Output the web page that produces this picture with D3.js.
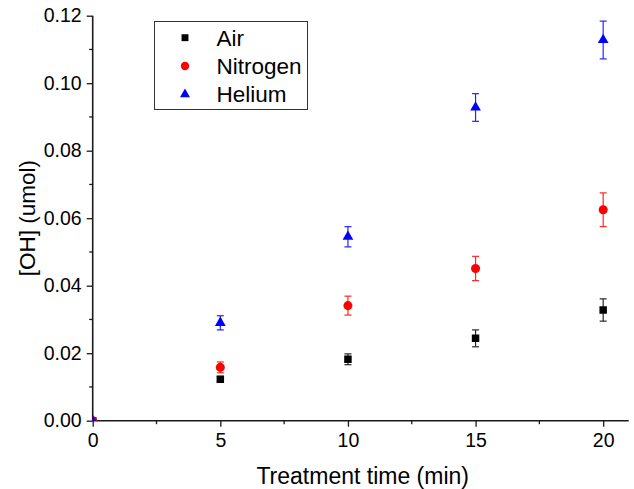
<!DOCTYPE html>
<html>
<head>
<meta charset="utf-8">
<script src="https://cdn.jsdelivr.net/npm/d3@7"></script>
<style>
  html, body { margin: 0; padding: 0; background: #fff; }
  svg { display: block; font-family: "Liberation Sans", Arial, sans-serif; }
</style>
</head>
<body>
<svg id="chart" width="634" height="489"></svg>
<script>
// Treatment times (min)
const times = [0, 5, 10, 15, 20];

// [OH] yield (umol) and standard deviations for each feed gas
const airValues      = [0, 0.0123, 0.0182, 0.0244, 0.0328];
const airErrors      = [0, 0.0008, 0.0016, 0.0025, 0.0033];
const nitrogenValues = [0, 0.0158, 0.0341, 0.0451, 0.0625];
const nitrogenErrors = [0, 0.0016, 0.0028, 0.0036, 0.0050];
const heliumValues   = [0, 0.0290, 0.0545, 0.0928, 0.1128];
const heliumErrors   = [0, 0.0021, 0.0030, 0.0041, 0.0056];

// Axis ticks
const xTicks = [0, 5, 10, 15, 20];
const xMinorTicks = [2.5, 7.5, 12.5, 17.5];
const yTicks = [0, 0.02, 0.04, 0.06, 0.08, 0.10, 0.12];
const yMinorTicks = [0.01, 0.03, 0.05, 0.07, 0.09, 0.11];

const seriesNames = ["Air", "Nitrogen", "Helium"];

const series = [
  { name: seriesNames[0], values: airValues, errors: airErrors, color: "#000000", symbol: d3.symbolSquare, size: 56 },
  { name: seriesNames[1], values: nitrogenValues, errors: nitrogenErrors, color: "#ff0000", symbol: d3.symbolCircle, size: 64 },
  { name: seriesNames[2], values: heliumValues, errors: heliumErrors, color: "#0000ff", symbol: d3.symbolTriangle, size: 50 }
];

const svg = d3.select("#chart");

const x = d3.scaleLinear().domain([0, 21]).range([92.7, 628.7]);
const y = d3.scaleLinear().domain([0, 0.12]).range([420.7, 15.7]);

// Clip marks to the plotting area
svg.append("defs").append("clipPath").attr("id", "plotClip")
  .append("rect")
  .attr("x", x(0)).attr("y", 0)
  .attr("width", x(21) - x(0)).attr("height", y(0));

// X axis
const xAxis = svg.append("g")
  .attr("transform", `translate(0,${y(0)})`)
  .call(d3.axisBottom(x).tickValues(xTicks).tickFormat(d3.format("d")).tickSize(6).tickPadding(6));
xAxis.append("g").selectAll("line").data(xMinorTicks).join("line")
  .attr("x1", d => x(d)).attr("x2", d => x(d))
  .attr("y1", 0).attr("y2", 3.5);

// Y axis
const yAxis = svg.append("g")
  .attr("transform", `translate(${x(0)},0)`)
  .call(d3.axisLeft(y).tickValues(yTicks).tickFormat(d3.format(".2f")).tickSize(6).tickPadding(5));
yAxis.append("g").selectAll("line").data(yMinorTicks).join("line")
  .attr("y1", d => y(d)).attr("y2", d => y(d))
  .attr("x1", 0).attr("x2", -3.5);

svg.selectAll(".domain").attr("stroke", "#1a1a1a").attr("stroke-width", 1.6);
svg.selectAll(".tick line").attr("stroke", "#1a1a1a").attr("stroke-width", 1.3);
svg.selectAll("g > g > line").attr("stroke", "#1a1a1a").attr("stroke-width", 1.3);
svg.selectAll(".tick text").attr("font-size", 19.5).attr("fill", "#000")
  .attr("font-family", "Liberation Sans, Arial, sans-serif");
xAxis.selectAll(".domain").attr("d", `M${x(0)},0H${x(21)}`);
yAxis.selectAll(".domain").attr("d", `M0,${y(0)}V${y(0.12)}`);

// Axis titles
svg.append("text")
  .attr("x", (x(0) + x(21)) / 2 + 2).attr("y", 483.5)
  .attr("text-anchor", "middle").attr("font-size", 23)
  .text("Treatment time (min)");

svg.append("text")
  .attr("transform", `translate(35,${(y(0) + y(0.12)) / 2}) rotate(-90)`)
  .attr("text-anchor", "middle").attr("font-size", 22.5)
  .text("[OH] (umol)");

// Data: error bars then markers
const plot = svg.append("g").attr("clip-path", "url(#plotClip)");
const capHalf = 3.5;

series.forEach(s => {
  const g = plot.append("g");
  const pts = times.map((t, i) => ({ t, v: s.values[i], e: s.errors[i] }));
  const bars = g.selectAll("g.err").data(pts.filter(p => p.e > 0)).join("g")
    .attr("stroke", s.color).attr("stroke-width", 1.2).attr("opacity", 0.85);
  bars.append("line")
    .attr("x1", p => x(p.t)).attr("x2", p => x(p.t))
    .attr("y1", p => y(p.v - p.e)).attr("y2", p => y(p.v + p.e));
  bars.append("line")
    .attr("x1", p => x(p.t) - capHalf).attr("x2", p => x(p.t) + capHalf)
    .attr("y1", p => y(p.v + p.e)).attr("y2", p => y(p.v + p.e));
  bars.append("line")
    .attr("x1", p => x(p.t) - capHalf).attr("x2", p => x(p.t) + capHalf)
    .attr("y1", p => y(p.v - p.e)).attr("y2", p => y(p.v - p.e));

  g.selectAll("path.pt").data(pts).join("path")
    .attr("class", "pt")
    .attr("d", d3.symbol().type(s.symbol).size(s.size))
    .attr("transform", p => `translate(${x(p.t)},${y(p.v)})`)
    .attr("fill", s.color);
});

// Legend
const legend = svg.append("g");
legend.append("rect")
  .attr("x", 154.5).attr("y", 21.5).attr("width", 153).attr("height", 88)
  .attr("fill", "#fff").attr("stroke", "#333").attr("stroke-width", 1);
const legendRows = [37.7, 66, 94.3];
series.forEach((s, i) => {
  legend.append("path")
    .attr("d", d3.symbol().type(s.symbol).size(s.size * 0.85))
    .attr("transform", `translate(185,${legendRows[i]})`)
    .attr("fill", s.color);
  legend.append("text")
    .attr("x", 216.5).attr("y", legendRows[i] + 7.8)
    .attr("font-size", 22.5)
    .text(s.name);
});
</script>
</body>
</html>
